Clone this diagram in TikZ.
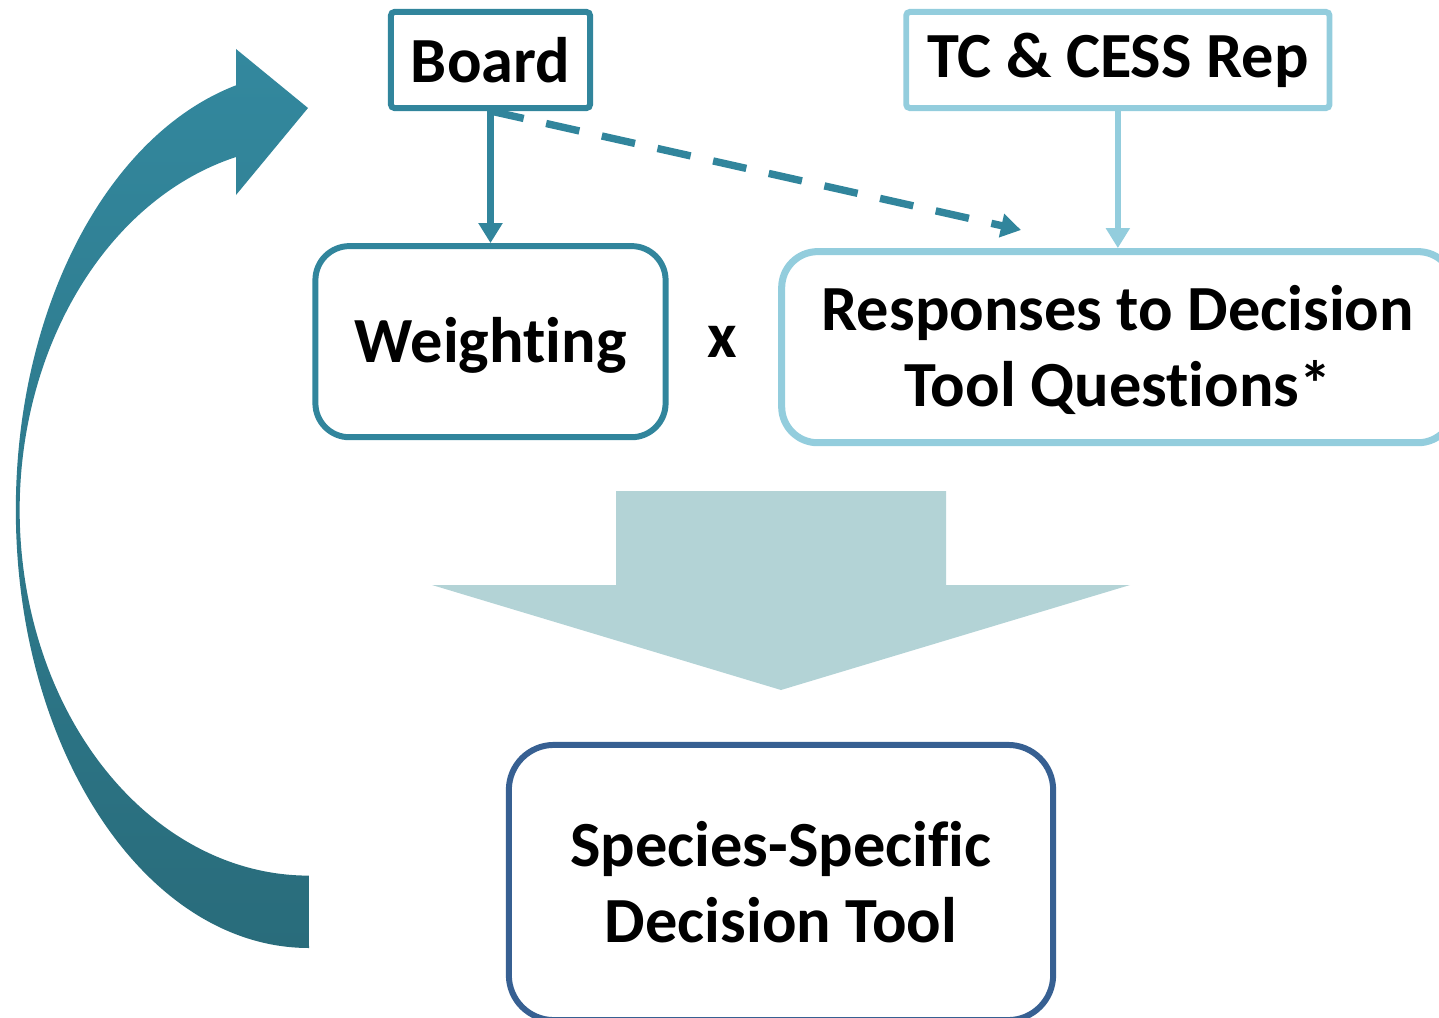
\documentclass[tikz,border=0pt]{standalone}
\usepackage{fontspec}
\setmainfont{Carlito}[Ligatures=NoCommon]
\usetikzlibrary {arrows.meta}

\definecolor{tealline}{HTML}{31859C}
\definecolor{aqualine}{HTML}{93CDDD}
\definecolor{navyline}{HTML}{376092}
\definecolor{blockfill}{HTML}{B3D3D6}
\definecolor{curvetop}{HTML}{33889E}
\definecolor{curvebot}{HTML}{296C7B}

\begin{document}
\begin{tikzpicture} [x=0.01cm, y=0.01cm,
        sqbox/.style={draw, rectangle, line width=1.7pt, rounded corners=1pt,
            minimum height=0.96cm, font=\fontsize{18.3}{21.6}\selectfont\bfseries},
        rndbox/.style={draw, rectangle, line width=1.7pt, rounded corners=0.34cm,
            minimum height=1.91cm, align=center, font=\fontsize{18.3}{21.6}\selectfont\bfseries},
        flow/.style={line width=1.8pt, -{Triangle[length=0.2cm, width=0.23cm]}},
        node distance=2.815cm ]
    \useasboundingbox (0,0) rectangle (1439,1017);
    % feedback arrow
    \shade[top color=curvetop, bottom color=curvebot]
        (309,69) arc[start angle=270, end angle=104.4, x radius=2.93cm, y radius=4.38cm]
        -- (236,968) -- (308,909) -- (236,822) -- (236,860)
        arc[start angle=104.6, end angle=270, x radius=2.89cm, y radius=3.65cm]
        -- cycle;
    % block arrow
    \fill[blockfill] (616,526) -- (946,526) -- (946,432) -- (1130,432)
        -- (781,327) -- (432,432) -- (616,432) -- cycle;
    \node[sqbox, draw=tealline, minimum width=1.99cm] (brd) at (490.5,957) {Board};
    \node[rndbox, draw=tealline, minimum width=3.5cm, text depth=0.08em, below of=brd] (wt) {Weighting};
    \node[sqbox, draw=aqualine, minimum width=4.23cm, right of=brd, node distance=6.27cm] (tc) {TC \& CESS Rep};
    \node[rndbox, draw=aqualine, line width=2pt, rounded corners=0.36cm, minimum width=6.72cm,
        text depth=0.08em, below of=tc, node distance=2.87cm] (resp) {Responses to Decision\\Tool Questions*};
    \node[right of=wt, node distance=2.32cm, font=\fontsize{18.3}{21.6}\selectfont\bfseries] (times) {x};
    \node[rndbox, draw=navyline, rounded corners=0.45cm, minimum width=5.44cm, minimum height=2.75cm]
        (tool) at (781,134.5) {Species-Specific\\Decision Tool};
    \coordinate (dashend) at (1021,787);
    \draw (brd) edge[flow, tealline] (wt);
    \draw (brd.south) edge[flow, tealline, line width=2.1pt, dash pattern=on 0.34cm off 0.23cm] (dashend);
    \draw (tc) edge[flow, aqualine] (resp);
\end{tikzpicture}
\end{document}
